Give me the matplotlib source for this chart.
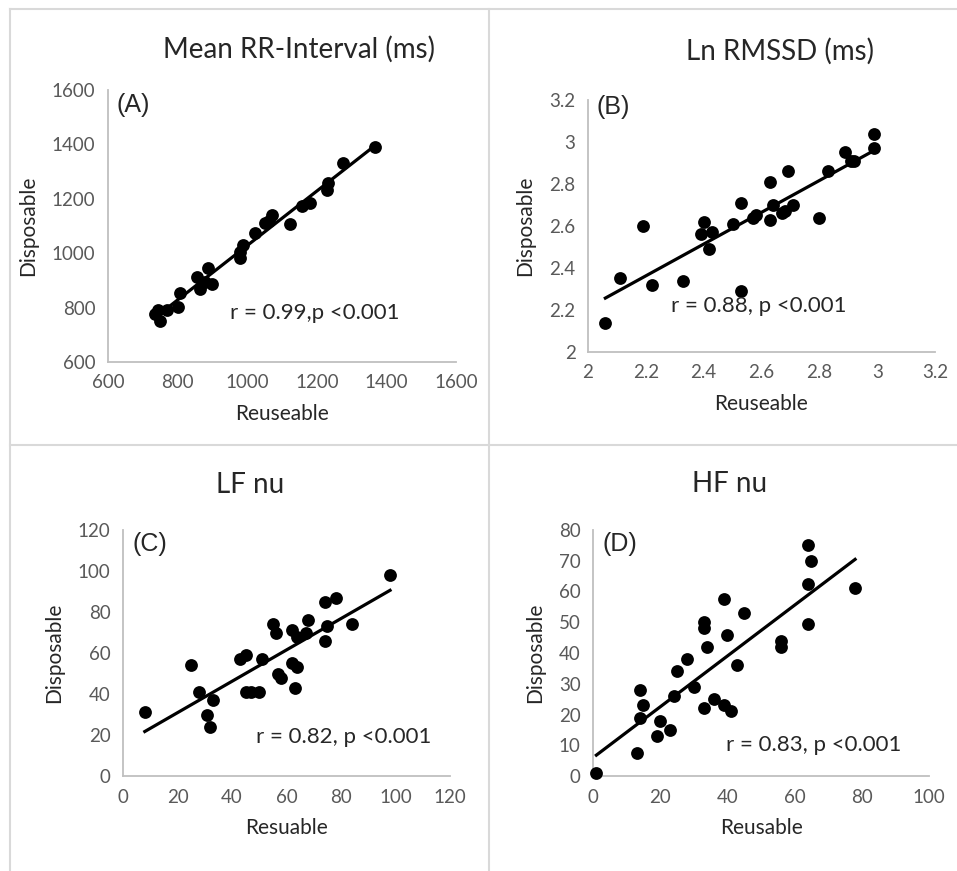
import numpy as np
import matplotlib
matplotlib.use("Agg")
import matplotlib.pyplot as plt
from matplotlib.lines import Line2D

plt.rcParams['font.family'] = ['Lato', 'DejaVu Sans']

# (A) Mean RR-Interval (ms)
rr_reuse = [1367, 1274, 1233, 1228, 1180, 1157, 1123, 1070, 1051, 1062, 1022, 989, 979, 979,
            888, 855, 864, 879, 898, 807, 802, 769, 745, 735, 749]
rr_disp = [1391, 1332, 1257, 1234, 1185, 1173, 1109, 1142, 1112, 1118, 1073, 1030, 1005, 981,
           944, 911, 870, 894, 886, 852, 802, 790, 790, 778, 751]

# (B) Ln RMSSD (ms)
ln_reuse = [2.06, 2.11, 2.19, 2.22, 2.33, 2.40, 2.39, 2.43, 2.42, 2.50, 2.53, 2.53, 2.57, 2.58,
            2.63, 2.64, 2.63, 2.67, 2.68, 2.69, 2.71, 2.80, 2.83, 2.89, 2.91, 2.92, 2.99, 2.99]
ln_disp = [2.14, 2.35, 2.60, 2.32, 2.34, 2.62, 2.56, 2.57, 2.49, 2.61, 2.71, 2.29, 2.64, 2.65,
           2.81, 2.70, 2.63, 2.66, 2.67, 2.86, 2.70, 2.64, 2.86, 2.95, 2.91, 2.91, 3.04, 2.97]

# (C) LF nu
lf_reuse = [8, 25, 28, 31, 32, 33, 43, 45, 45, 47, 50, 51, 55, 56, 57, 58, 62, 62, 64, 63,
            64, 68, 67, 74, 74, 75, 78, 84, 98]
lf_disp = [31, 54, 41, 30, 24, 37, 57, 59, 41, 41, 41, 57, 74, 70, 50, 48, 71, 55, 53, 43,
           68, 76, 70, 85, 66, 73, 87, 74, 98]

# (D) HF nu
hf_reuse = [1, 13, 14, 14, 15, 19, 20, 23, 24, 25, 28, 30, 33, 33, 33, 34, 36, 39, 39, 40,
            41, 43, 45, 56, 56, 64, 64, 64, 65, 78]
hf_disp = [1, 7.5, 28, 19, 23, 13, 18, 15, 26, 34, 38, 29, 50, 48, 22, 42, 25, 23, 57.5, 46,
           21, 36, 53, 44, 42, 49.5, 62.5, 75, 70, 61]

W, H = 957, 871


def fx(px):
    return px / W


def fy(py):
    return 1 - py / H


panels = [
    dict(x=rr_reuse, y=rr_disp, xt=np.arange(600, 1601, 200), yt=np.arange(600, 1601, 200),
         title="Mean RR-Interval (ms)", title_at=(299, 49), xlabel="Reuseable",
         tag="(A)", tag_at=(116, 105), note="r = 0.99,p <0.001", note_at=(230, 313),
         box=(108, 90, 456, 362)),
    dict(x=ln_reuse, y=ln_disp, xt=[2, 2.2, 2.4, 2.6, 2.8, 3, 3.2], yt=[2, 2.2, 2.4, 2.6, 2.8, 3, 3.2],
         title="Ln RMSSD (ms)", title_at=(780, 51), xlabel="Reuseable",
         tag="(B)", tag_at=(597, 107), note="r = 0.88, p <0.001", note_at=(671, 306),
         box=(588, 100, 935, 352)),
    dict(x=lf_reuse, y=lf_disp, xt=np.arange(0, 121, 20), yt=np.arange(0, 121, 20),
         title="LF nu", title_at=(250, 485), xlabel="Resuable",
         tag="(C)", tag_at=(132, 544), note="r = 0.82, p <0.001", note_at=(256, 737),
         box=(123, 530, 450, 776)),
    dict(x=hf_reuse, y=hf_disp, xt=np.arange(0, 101, 20), yt=np.arange(0, 81, 10),
         title="HF nu", title_at=(730, 484), xlabel="Reusable",
         tag="(D)", tag_at=(602, 544), note="r = 0.83, p <0.001", note_at=(726, 745),
         box=(593, 530, 929, 776)),
]

fig = plt.figure(figsize=(W / 100, H / 100), dpi=100)

grey = "#d9d9d9"
borders = [((10, W), (9, 9)), ((10, 10), (9, H)), ((489, 489), (9, H)), ((10, W), (445, 445))]
for xs_, ys_ in borders:
    fig.add_artist(Line2D([fx(v) for v in xs_], [fy(v) for v in ys_], color=grey, lw=1.5))

ink = "#262626"
for p in panels:
    l, t, r, b = p["box"]
    ax = fig.add_axes([fx(l), fy(b), (r - l) / W, (b - t) / H])
    x = np.array(p["x"], float)
    y = np.array(p["y"], float)
    ax.scatter(x, y, s=85, color="black", zorder=3, linewidths=0, clip_on=False)
    k, c = np.polyfit(x, y, 1)
    xs = np.array([x.min(), x.max()])
    ax.plot(xs, k * xs + c, color="black", lw=2.3, zorder=2)

    ax.set_xlim(p["xt"][0], p["xt"][-1])
    ax.set_ylim(p["yt"][0], p["yt"][-1])
    ax.set_xticks(p["xt"])
    ax.set_yticks(p["yt"])
    ax.set_xticklabels([f"{v:g}" for v in p["xt"]])
    ax.set_yticklabels([f"{v:g}" for v in p["yt"]])

    for s in ["top", "right"]:
        ax.spines[s].set_visible(False)
    for s in ["left", "bottom"]:
        ax.spines[s].set_color("#bfbfbf")
        ax.spines[s].set_linewidth(1.3)
    ax.tick_params(length=0, labelsize=13.5, colors="#595959", pad=9)
    ax.set_xlabel(p["xlabel"], fontsize=15, color=ink, labelpad=9)
    ax.set_ylabel("Disposable", fontsize=15, color=ink, labelpad=10)

    fig.text(fx(p["title_at"][0]), fy(p["title_at"][1]), p["title"], fontsize=20,
             color=ink, ha="center", va="center")
    fig.text(fx(p["tag_at"][0]), fy(p["tag_at"][1]), p["tag"], fontsize=18,
             color=ink, ha="left", va="center", family=["Liberation Sans", "DejaVu Sans"])
    fig.text(fx(p["note_at"][0]), fy(p["note_at"][1]), p["note"], fontsize=16,
             color=ink, ha="left", va="center")

fig.savefig("out.png", dpi=100)
